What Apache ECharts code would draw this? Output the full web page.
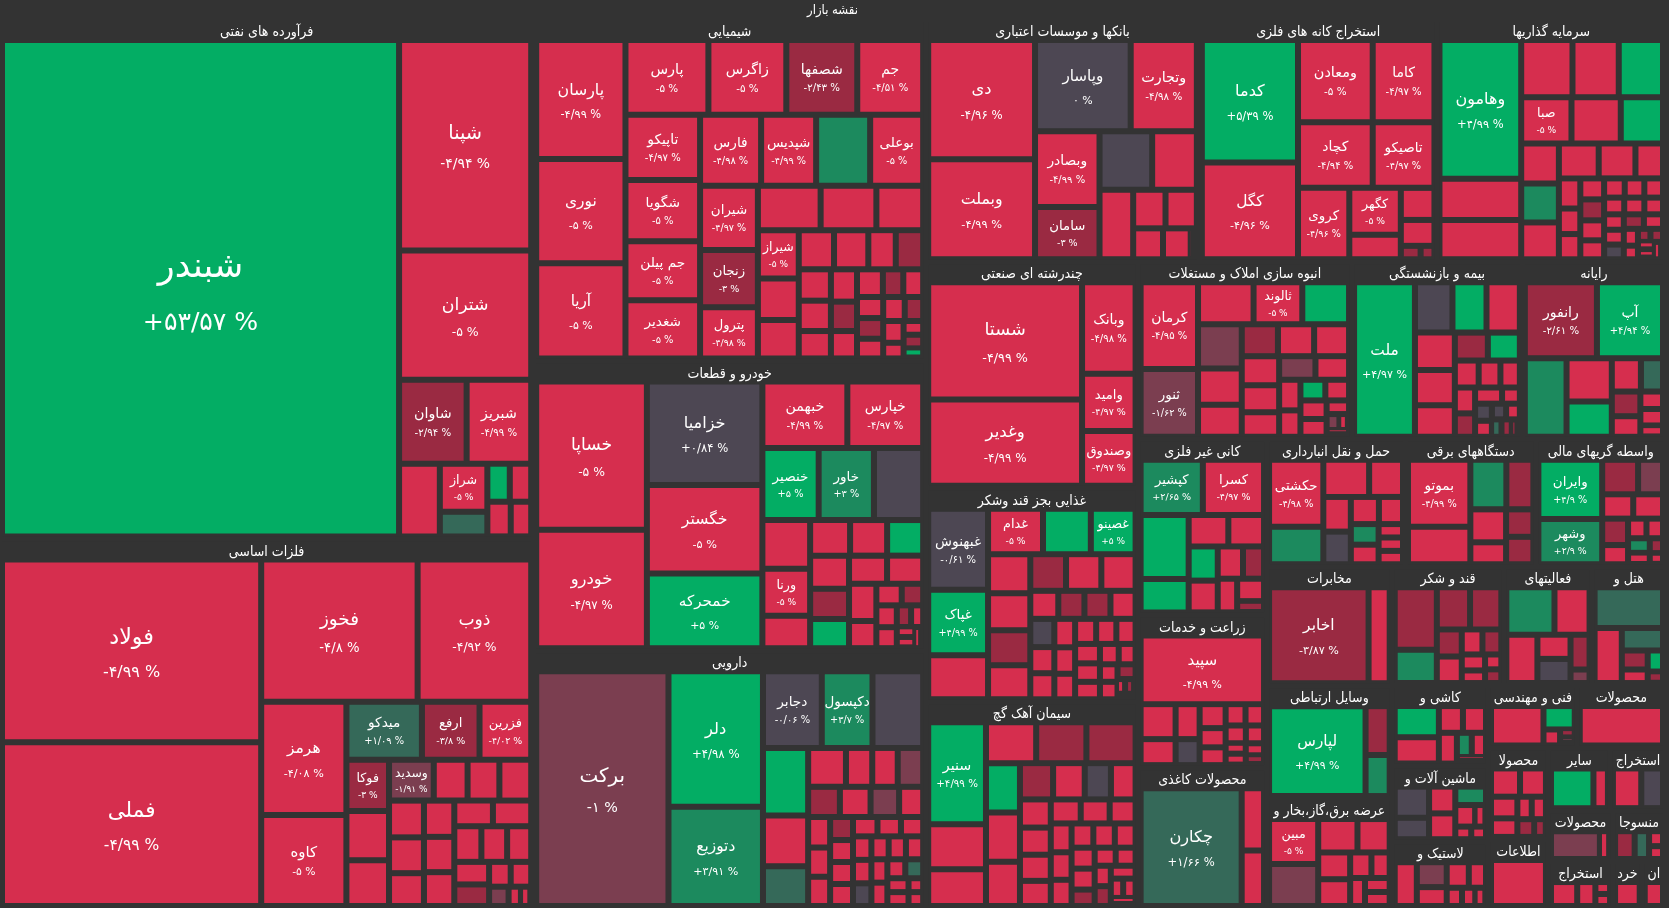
<!DOCTYPE html>
<html><head><meta charset="utf-8">
<script src="https://cdn.jsdelivr.net/npm/echarts/dist/echarts.min.js"></script>
<style>html,body{margin:0;padding:0;background:#333333;overflow:hidden}#c{width:1669px;height:908px}</style>
</head><body><div id="c"></div>
<script>
// ---- data: [symbol, size (market weight), change %] ----
const faravarde = [['شبندر',198303,53.57],['شپنا',27984,-4.94],['شتران',17160,-5],['شاوان',5712,-2.94],['شبریز',5460,-4.99],['',2982,-4.9],['شراز',2303,-5],['',1175,1.4],['',858,4.9],['',819,-4.9],['',816,-4.9],['',714,-4.9]];
const felezat = [['فولاد',47763,-4.99],['فملی',42804,-4.99],['فخوز',22451,-4.8],['ذوب',16302,-4.92],['هرمز',9718,-4.08],['کاوه',7826,-5],['میدکو',4408,1.09],['ارفع',3364,-3.8],['فزرین',3016,-4.02],['فوکا',2205,-3],['',2115,-4.9],['',1968,-4.9],['وسدید',1845,-1.91],['',1394,-4.9],['',1312,-4.9],['',1312,-4.9],['',1295,-4.9],['',1260,-4.9],['',1155,-4.9],['',1110,-4.9],['',1080,-4.9],['',1036,-4.9],['',999,-4.9],['',990,-4.9],['',972,-4.9],['',925,-4.9],['',864,-4.9],['',792,-4.9],['',756,-3.1],['',540,-4.9],['',513,-4.9],['',380,-1.5],['',240,-4.9],['',200,-4.9]];
const shimiyai = [['پارسان',10800,-4.99],['نوری',9450,-5],['آریا',8640,-5],['پارس',6308,-5],['زاگرس',5928,-5],['شصفها',5396,-2.43],['جم',5016,-4.51],['تاپیکو',4940,-4.97],['شگویا',4636,-5],['جم پیلن',4484,-5],['شغدیر',4408,-5],['فارس',4392,-4.98],['شپدیس',3960,-4.99],['',3888,3.1],['بوعلی',3816,-5],['شیران',3776,-4.97],['زنجان',3363,-3],['پترول',3009,-4.98],['',2835,-4.9],['',2520,-4.9],['',2115,-4.9],['شیراز',2009,-5],['',1722,-4.9],['',1599,-4.9],['',1404,-4.9],['',1365,-4.9],['',1092,-3.1],['',1092,-4.9],['',1024,-4.9],['',992,-4.9],['',896,-4.9],['',858,-4.9],['',780,-3.1],['',728,-4.9],['',728,-4.9],['',575,-3.1],['',560,-4.9],['',560,-4.9],['',550,-3.1],['',525,-4.9],['',525,-4.9],['',450,-4.9],['',450,-3.1],['',325,-4.9],['',273,-3.1],['',273,-4.9],['',200,4.9]];
const khodro = [['خساپا',16576,-5],['خودرو',13216,-4.97],['خزامیا',12064,0.84],['خگستر',10324,-5],['خمحرکه',8700,5],['خبهمن',5712,-4.99],['خپارس',5100,-4.97],['خنصیر',4088,5],['خاور',4015,3],['',3577,0.1],['',2352,-4.9],['ورنا',2254,-5],['',1568,-4.9],['',1435,-4.9],['',1330,-4.9],['',1295,-4.9],['',1295,4.9],['',1196,-3.1],['',1140,4.9],['',1080,-4.9],['',1026,-4.9],['',1026,-4.9],['',750,-4.9],['',552,-4.9],['',468,-3.1],['',450,-4.9],['',432,-4.9],['',312,-3.1],['',264,-4.9],['',200,-4.9],['',195,-4.9],['',169,-4.9]];
const darouei = [['برکت',31122,-1],['دلر',12825,4.98],['دتوزیع',9405,3.91],['دجابر',4524,-0.06],['',3900,-0.3],['دکپسول',3900,3.7],['',3060,4.9],['',2295,-4.9],['',1800,1.4],['',1472,-4.9],['',1024,-4.9],['',992,-1.5],['',992,-4.9],['',960,-3.1],['',928,-4.9],['',864,-1.5],['',728,-4.9],['',672,-4.9],['',644,-4.9],['',644,-4.9],['',528,-3.1],['',504,-4.9],['',504,-4.9],['',504,-4.9],['',475,-4.9],['',456,-4.9],['',432,-4.9],['',432,-4.9],['',432,-4.9],['',418,0.1],['',396,-4.9],['',396,-4.9],['',396,-4.9],['',374,-4.9],['',374,-4.9],['',340,1.4],['',340,-4.9],['',294,-4.9],['',294,-4.9],['',204,-4.9],['',204,-4.9]];
const banks = [['دی',12733,-4.96],['وبملت',10700,-4.99],['وپاسار',8742,0],['وتجارت',6045,-4.98],['وبصادر',4875,-4.99],['سامان',3380,-3],['',3074,0.1],['',2610,-4.9],['',2343,-4.9],['',1248,-4.9],['',1209,-4.9],['',924,-4.9],['',858,-4.9],['',190,-3.1]];
const kaneh = [['کدما',11931,5.39],['کگل',9409,-4.96],['ومعادن',6225,-5],['کاما',5146,-4.97],['کچاد',4950,-4.94],['تاصیکو',4092,-4.97],['کروی',3710,-4.96],['کگهر',2450,-5],['',1275,-4.9],['',1092,-4.9],['',882,-4.9],['',270,-3.1],['',189,-3.1]];
const sarmayeh = [['وهامون',11454,4.99],['',3403,-4.9],['',3237,-4.9],['',2958,-4.9],['',2668,-4.9],['',2552,4.9],['صبا',2350,-5],['',2303,-4.9],['',1974,4.9],['',1521,-4.9],['',1482,3.1],['',1404,-4.9],['',1404,-4.9],['',1296,-4.9],['',972,-4.9],['',651,-4.9],['',552,-4.9],['',546,-4.9],['',504,-3.1],['',504,-4.9],['',480,-4.9],['',456,-4.9],['',399,-4.9],['',380,-4.9],['',361,-4.9],['',340,-4.9],['',340,-4.9],['',315,-4.9],['',306,-4.9],['',294,-3.1],['',294,0.1],['',294,-4.9],['',280,-4.9],['',240,-4.9],['',195,-4.9],['',165,-3.1],['',165,-3.1],['',153,-4.9],['',144,-4.9],['',144,-4.9]];
const chandreshte = [['شستا',18972,-4.99],['وغدیر',13923,-4.99],['وبانک',5141,-4.98],['وامید',3233,-4.97],['وصندوق',3074,-4.97]];
const ghazaei = [['غبهنوش',4819,-0.61],['غپاک',3904,4.99],['',2623,-4.9],['غدام',2484,-5],['',2162,4.9],['غصینو',2024,5],['',1638,-4.9],['',1560,-4.9],['',1470,-3.1],['',1428,-4.9],['',1302,-3.1],['',1287,-4.9],['',1248,-4.9],['',780,-4.9],['',728,-3.1],['',725,-3.1],['',700,-4.9],['',676,0.1],['',625,-4.9],['',624,-4.9],['',588,-4.9],['',546,-4.9],['',528,-4.9],['',525,-4.9],['',504,-4.9],['',480,-4.9],['',480,-4.9],['',456,-4.9],['',432,-4.9],['',380,-4.9],['',342,-4.9],['',306,-4.9],['',306,-4.9],['',266,-3.1],['',132,-3.1],['',132,-4.9],['',100,-4.9]];
const siman = [['سنیر',5900,4.99],['',2596,-4.9],['',2124,-4.9],['',2050,-3.1],['',2050,-4.9],['',2009,-3.1],['',1677,-4.9],['',1677,4.9],['',1505,-4.9],['',1204,-3.1],['',1148,-4.9],['',952,0.1],['',896,-4.9],['',868,-4.9],['',837,-4.9],['',806,-4.9],['',775,-4.9],['',720,-4.9],['',696,-4.9],['',624,-4.9],['',600,-4.9],['',572,-4.9],['',546,-4.9],['',528,-4.9],['',520,-4.9],['',504,-4.9],['',484,-4.9],['',484,-4.9],['',380,-4.9],['',380,-3.1],['',360,-4.9],['',330,-4.9],['',320,-4.9],['',320,-3.1],['',240,-4.9],['',240,-4.9],['',200,-4.9]];
const anboh = [['کرمان',4872,-4.95],['ثنور',3808,-1.62],['',2280,-4.9],['ثالوند',2000,-5],['',1920,4.9],['',1892,-1.5],['',1548,-4.9],['',1376,-4.9],['',1131,-4.9],['',1131,-3.1],['',1092,-4.9],['',1066,-4.9],['',986,-4.9],['',899,-4.9],['',837,-1.5],['',775,-4.9],['',638,-4.9],['',550,-4.9],['',504,4.9],['',480,-4.9],['',475,-4.9],['',456,-4.9],['',300,-4.9],['',200,-1.5],['',150,-4.9],['',150,-4.9]];
const bimeh = [['ملت',9424,4.97],['',1890,0.1],['',1716,4.9],['',1680,-4.9],['',1496,-4.9],['',1408,-4.9],['',1260,-4.9],['',924,-3.1],['',896,4.9],['',644,-4.9],['',588,-4.9],['',525,-4.9],['',525,-4.9],['',475,-3.1],['',437,-4.9],['',288,0.1],['',288,-4.9],['',270,-4.9],['',224,0.1],['',216,-4.9],['',182,1.4],['',180,-3.1],['',126,-3.1]];
const rayaneh = [['رانفور',5400,-2.61],['آپ',4950,4.94],['',3234,3.1],['',1935,-4.9],['',1575,4.9],['',957,-4.9],['',726,1.4],['',696,-3.1],['',580,-4.9],['',391,-4.9],['',368,-4.9],['',253,-4.9]];
const kani = [['کپشیر',3416,2.65],['کسرا',3360,-4.97],['',3055,4.9],['',1598,4.9],['',1240,-4.9],['',1116,-4.9],['',988,4.9],['',918,-4.9],['',810,-4.9],['',676,-3.1],['',650,-4.9],['',600,-4.9],['',300,-3.1]];
const zeraat = [['سپید',8487,-4.99],['',1225,-4.9],['',910,-4.9],['',840,-4.9],['',625,0.1],['',624,-4.9],['',500,-4.9],['',462,-4.9],['',425,-4.9],['',396,-4.9],['',360,-4.9],['',324,-4.9],['',220,-4.9],['',220,-4.9],['',220,-4.9],['',180,-3.1]];
const kaghazi = [['چکارن',12019,1.66],['',1408,-4.9],['',1254,-4.9]];
const haml = [['حکشتی',3740,-4.98],['',2090,3.1],['',1748,-4.9],['',1292,-4.9],['',980,-4.9],['',924,0.1],['',784,-4.9],['',672,-4.9],['',588,3.1],['',560,-4.9],['',336,-4.9],['',336,-4.9],['',336,-4.9]];
const barghi = [['بموتو',4216,-4.99],['',2356,-4.9],['',1800,3.1],['',1350,-3.1],['',1188,-4.9],['',792,-4.9],['',756,-3.1],['',756,-3.1]];
const vasete = [['وایران',3840,4.9],['وشهر',2944,2.9],['',1260,-3.1],['',875,-1.5],['',768,-4.9],['',736,-4.9],['',696,-3.1],['',506,-4.9],['',368,-4.9],['',330,-4.9],['',322,3.1],['',253,-4.9],['',200,-3.1],['',150,-4.9]];
const mokhaberat = [['اخابر',9603,-3.87],['',2037,-4.9]];
const vasayel = [['لپارس',8827,4.99],['',1200,-3.1],['',1008,3.1]];
const barq = [['مبین',2300,-5],['',2150,-1.5],['',1365,-4.9],['',1120,-4.9],['',891,-4.9],['',891,-4.9],['',567,-4.9],['',486,-4.9],['',432,-4.9],['',360,-4.9],['',360,-4.9]];
const ghand = [['',2688,-3.1],['',1428,-3.1],['',1428,3.1],['',1344,-3.1],['',690,-3.1],['',675,-4.9],['',529,-4.9],['',483,-3.1],['',380,-4.9],['',300,-4.9],['',247,-4.9],['',228,-3.1]];
const faaliat = [['',2352,3.1],['',1715,-4.9],['',1550,-4.9],['',825,0.1],['',825,-4.9],['',684,-3.1],['',266,-1.5]];
const hotel = [['',2856,1.4],['',1530,-4.9],['',945,1.4],['',504,-3.1],['',360,-4.9],['',330,4.9],['',180,-3.1]];
const kashi = [['',1440,4.9],['',1215,-4.9],['',672,-4.9],['',644,-4.9],['',580,-4.9],['',377,3.1],['',360,-4.9],['',200,-4.9]];
const mashin = [['',1152,0.1],['',792,0.1],['',756,-4.9],['',728,-4.9],['',608,3.1],['',459,-4.9],['',252,-4.9],['',216,-4.9],['',200,-4.9]];
const lastik = [['',988,-4.9],['',760,-1.5],['',575,-4.9],['',575,-4.9],['',448,-4.9],['',285,-4.9],['',247,-4.9],['',200,-4.9]];
const fani = [['',2120,-4.9],['',750,4.9],['',272,-4.9],['',140,-3.1],['',100,-1.5]];
const felezi = [['',3320,-4.9]];
const shimiaei2 = [['',784,-4.9],['',700,-4.9],['',546,-4.9],['',468,-4.9],['',308,-4.9],['',306,-4.9],['',286,-3.1],['',198,-3.1]];
const ettelaat = [['',2300,-4.9]];
const sayer = [['',1716,4.9],['',585,-4.9]];
const zoghal = [['',1170,-4.9],['',897,0.1]];
const choobi = [['',1392,-1.5],['',290,-4.9]];
const naft = [['',650,-4.9],['',450,-4.9],['',182,-4.9],['',182,-4.9]];
const mansoojat = [['',475,-3.1],['',350,1.4],['',182,-4.9],['',156,-4.9]];
const khordeh = [['',400,-4.9]];
const chap = [['',300,-4.9]];

const sectorNames = ['فرآورده های نفتی','فلزات اساسی','شیمیایی','خودرو و قطعات','دارویی','بانکها و موسسات اعتباری','استخراج کانه های فلزی','سرمایه گذاریها','چندرشته ای صنعتی','غذایی بجز قند وشکر','سیمان آهک گچ','انبوه سازی املاک و مستغلات','بیمه و بازنشستگی','رایانه','کانی غیر فلزی','زراعت و خدمات وابسته','محصولات کاغذی','حمل و نقل انبارداری','دستگاههای برقی','واسطه گریهای مالی','مخابرات','وسایل ارتباطی','عرضه برق،گاز،بخار و آب گرم','قند و شکر','فعالیتهای کمکی به نهادهای مالی واسط','هتل و رستوران','کاشی و سرامیک','ماشین آلات و تجهیزات','لاستیک و پلاستیک','فنی و مهندسی','محصولات فلزی','محصولات شیمیایی','اطلاعات و ارتباطات','سایر محصولات کانی غیرفلزی','استخراج زغال سنگ','محصولات چوبی','استخراج نفت گاز و خدمات جنبی','منسوجات','خرده فروشی','انتشار، چاپ و تکثیر'];
const sectorSizes = [278720,198320,134456,114072,101528,66612,57838,55632,48300,45580,44096,38055,30444,25520,22656,19712,18176,17792,16700,16600,15000,14250,13875,13320,10527,8760,7790,7315,6460,5560,5530,5510,4161,3906,3472,3276,3024,2700,1400,1100];
const sectorStocks = [faravarde,felezat,shimiyai,khodro,darouei,banks,kaneh,sarmayeh,chandreshte,ghazaei,siman,anboh,bimeh,rayaneh,kani,zeraat,kaghazi,haml,barghi,vasete,mokhaberat,vasayel,barq,ghand,faaliat,hotel,kashi,mashin,lastik,fani,felezi,shimiaei2,ettelaat,sayer,zoghal,choobi,naft,mansoojat,khordeh,chap];
const rootName = 'نقشه بازار';

// ---- styling ----
const FONT = "'DejaVu Sans', sans-serif";
const HFONT = "'DejaVu Sans Condensed', 'DejaVu Sans', sans-serif";
const HEADER_PX = 14;
const BG = '#333333';
function colorOf(c){
  if (c <= -3.95) return '#d62e4e';
  if (c <= -2) return '#9a2a42';
  if (c <= -1) return '#7b3e50';
  if (c < 1) return '#4d4753';
  if (c < 2) return '#356959';
  if (c < 3.95) return '#1c8a5e';
  return '#03ad64';
}
function fa(s){ return s.replace(/[0-9]/g, d => '۰۱۲۳۴۵۶۷۸۹'[+d]); }
function pctText(c){
  const sign = c > 0 ? '+' : (c < 0 ? '-' : '');
  const s = Math.abs(c).toFixed(2).replace(/\.?0+$/, '');
  return sign + fa(s).replace('.', '/') + ' %';
}
function leaf(row, h){
  const name = row[0], size = row[1], chg = row[2];
  const item = { name: name, value: size, itemStyle: { color: colorOf(chg) } };
  if (name) {
    const f = 10 + 0.056 * Math.sqrt(size);
    const pf = Math.max(9, f * 0.72);
    const big = f >= 15;
    const nl = f * (big ? 2.0 : 1.6), pl = pf * (big ? 1.6 : 1.45);
    item.pct = pctText(chg);
    const padTop = h ? Math.max(0, (h - nl - pl) / 2) : 0;
    item.label = { padding: [padTop, 0, 0, 0], rich: {
      n: { fontSize: f, lineHeight: nl, color: '#fff', fontFamily: FONT },
      p: { fontSize: pf, lineHeight: pl, color: '#fff', fontFamily: FONT }
    } };
  }
  return item;
}

function buildOption(headers, heights){
  const sectors = sectorNames.map((n, i) => ({
    name: n, value: sectorSizes[i],
    children: sectorStocks[i].map((r, j) => leaf(r, heights ? heights[i][j] : 0))
  }));
  const upperFmt = p => (headers && headers[p.name] != null) ? headers[p.name] : p.name;
  return {
    backgroundColor: BG,
    animation: false,
    series: [{
      type: 'treemap',
      left: 0, top: 0, right: 4, bottom: 0,
      roam: false, nodeClick: false,
      breadcrumb: { show: false },
      drillDownIcon: '',
      sort: 'desc',
      squareRatio: 1,
      emphasis: { disabled: true },
      label: {
        show: true, position: 'inside', padding: 0, overflow: 'none', color: '#fff', fontFamily: FONT,
        formatter: p => (p.data && p.data.pct) ? '{n|' + p.name + '}\n{p|' + p.data.pct + '}' : (p.name || '')
      },
      upperLabel: { show: false, formatter: upperFmt },
      itemStyle: { borderWidth: 0, gapWidth: 0, borderColor: BG },
      levels: [
        { itemStyle: { borderWidth: 0, gapWidth: 0, color: BG, borderColor: BG }, upperLabel: { show: false } },
        { itemStyle: { borderWidth: 2, gapWidth: 5, color: BG, borderColor: BG },
          upperLabel: { show: true, height: 22, color: '#fff', fontSize: 13, fontFamily: HFONT, position: 'inside', padding: [0, 2, 3, 2], overflow: 'none', lineHeight: 18, formatter: upperFmt } },
        { itemStyle: { borderWidth: 3, gapWidth: 6, color: BG, borderColor: BG },
          upperLabel: { show: true, height: 21, color: '#fff', fontSize: HEADER_PX, fontFamily: HFONT, position: 'inside', padding: [0, 2, 3, 2], overflow: 'none', lineHeight: 18, formatter: upperFmt } },
        { itemStyle: { borderWidth: 0, gapWidth: 0, borderColor: BG }, upperLabel: { show: false } }
      ],
      data: [{ name: rootName, children: sectors }]
    }]
  };
}

const chart = echarts.init(document.getElementById('c'), null, { renderer: 'canvas' });
chart.setOption(buildOption(null, null));

// second pass: fit sector headers to their boxes (first line, word wrap) and centre leaf labels
(function refine(){
  try {
    const tree = chart.getModel().getSeriesByIndex(0).getData().tree;
    const mapNode = tree.root.children[0];
    const ctx = document.createElement('canvas').getContext('2d');
    ctx.font = HEADER_PX + "px " + HFONT;
    const fit = (text, w) => {
      const words = text.split(' ');
      let line = '';
      for (const wd of words) {
        const cand = line ? line + ' ' + wd : wd;
        if (ctx.measureText(cand).width <= w) line = cand; else break;
      }
      if (!line) {
        let s = words[0];
        while (s.length > 1 && ctx.measureText(s).width > w) s = s.slice(0, -1);
        line = s;
      }
      return line;
    };
    const headers = {}, heights = [];
    mapNode.children.forEach((sn, i) => {
      const lay = sn.getLayout() || { width: 0 };
      headers[sectorNames[i]] = fit(sectorNames[i], lay.width - 4);
      heights[i] = sn.children.map(ln => { const l = ln.getLayout(); return l ? l.height : 0; });
    });
    chart.setOption(buildOption(headers, heights), true);
  } catch (e) { console.error(e); }
})();
</script>
</body></html>
